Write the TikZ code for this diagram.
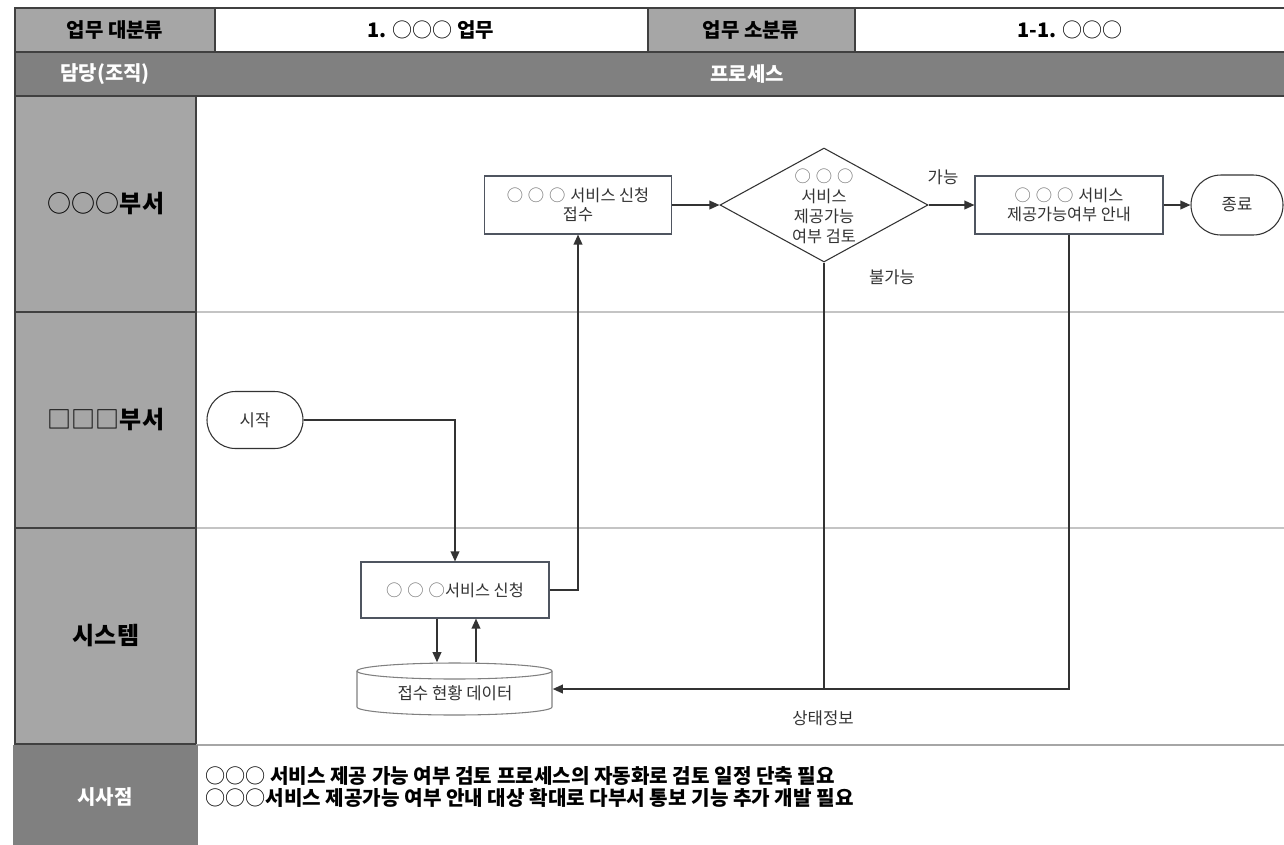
\documentclass[tikz,border=0pt]{standalone}
\usepackage{fontspec}
\setmainfont{Noto Sans CJK KR}
\usetikzlibrary{shapes.geometric,shapes.misc,arrows.meta,calc}
\definecolor{hdrgray}{HTML}{A6A6A6}
\definecolor{midgray}{HTML}{808080}
\definecolor{bordergray}{HTML}{404040}
\definecolor{lanegray}{HTML}{C4C4C4}
\definecolor{linecol}{HTML}{333333}
\definecolor{boxborder}{HTML}{4F5560}
\definecolor{nodetext}{HTML}{333333}
\definecolor{circgray}{HTML}{707070}
\newcommand{\myo}{{\color{circgray}○}}
\newcommand{\osp}{\hspace{0.3em}}
\tikzset{
  cell/.style={draw=bordergray, line width=0.9pt},
  hdr/.style={font=\fontsize{15}{17}\selectfont\bfseries, inner sep=0pt},
  lanelbl/.style={font=\fontsize{18}{21}\selectfont\bfseries, inner sep=0pt},
  procbox/.style={draw=boxborder, line width=0.8pt, fill=white, rectangle, align=center,
    text=nodetext, font=\fontsize{12.25}{14.5}\selectfont, inner sep=0pt},
  term/.style={rounded rectangle, draw=linecol, line width=0.8pt, fill=white,
    text=nodetext, font=\fontsize{12.5}{14}\selectfont, inner sep=0pt},
  flow/.style={draw=linecol, line width=1.1pt},
  arr/.style={flow, -{Triangle[length=7.5pt,width=6.5pt]}},
  lbl/.style={font=\fontsize{12.5}{14}\selectfont, text=nodetext, inner sep=0pt},
}
\begin{document}
\begin{tikzpicture}[x=0.75pt,y=-0.75pt]
\useasboundingbox (0,0) rectangle (1284,844);
% header row 1
\filldraw[cell, fill=hdrgray] (15,8) rectangle (215,52);
\draw[cell] (215,8) rectangle (648,52);
\filldraw[cell, fill=hdrgray] (648,8) rectangle (855,52);
\draw[cell] (855,8) rectangle (1300,52);
\node[hdr] (h1) at (115,30) {업무 대분류};
\node[hdr] (h2) at (431,30) {1. {\mdseries ○○○} 업무};
\node[hdr] (h3) at (751,30) {업무 소분류};
\node[hdr] (h4) at (1070,30) {1-1. {\mdseries ○○○}};
% header row 2
\filldraw[cell, fill=midgray] (15,52) rectangle (1300,96);
\node[hdr, text=white] (r1) at (105,74) {담당(조직)};
\node[hdr, text=white] (r2) at (747,74) {프로세스};
% lanes
\draw[lanegray, line width=0.9pt] (196,312) -- (1300,312) (196,528) -- (1300,528);
\filldraw[cell, fill=hdrgray] (15,96) rectangle (196,744);
\draw[cell] (15,312) -- (196,312) (15,528) -- (196,528);
\node[lanelbl] (l1) at (106,204) {{\mdseries ○○○}부서};
\node[lanelbl] (l2) at (106,420) {{\mdseries □□□}부서};
\node[lanelbl] (l3) at (106,636) {시스템};
% bottom row
\draw[hdrgray, line width=1.6pt] (196,745) -- (1300,745);
\fill[midgray] (13,745) rectangle (198,850);
\node[hdr, text=white] (s1) at (105,797) {시사점};
\node[anchor=west, align=left, inner sep=0pt, font=\fontsize{15.1}{16.6}\selectfont\bfseries] (s2) at (205,787)
  {{\mdseries ○○○} 서비스 제공 가능 여부 검토 프로세스의 자동화로 검토 일정 단축 필요\\
   {\mdseries ○○○}서비스 제공가능 여부 안내 대상 확대로 다부서 통보 기능 추가 개발 필요};
% process nodes
\node[term, minimum width=72pt, minimum height=42.75pt] (start) at (255,420) {시작};
\node[procbox, minimum width=141pt, minimum height=42pt] (apply) at (455,590) {\myo{}\osp\myo{}\osp\myo{}서비스 신청};
\node[minimum width=146.25pt, minimum height=39.75pt, inner sep=0pt] (db) at (455,689) {};
\draw[draw=gray, line width=0.8pt, fill=white] (357,671) -- (357,707)
  arc[start angle=180, end angle=360, x radius=73.125pt, y radius=6pt] -- (552,671);
\draw[draw=gray, line width=0.8pt, fill=white] (454.5,671) ellipse [x radius=73.125pt, y radius=6pt];
\node[font=\fontsize{12.5}{14}\selectfont, text=nodetext] (dbt) at (455,693) {접수 현황 데이터};
\node[procbox, minimum width=140.25pt, minimum height=43.5pt] (recv) at (578,205) {\myo{}\osp\myo{}\osp\myo{}\osp 서비스 신청\\접수};
\node[diamond, draw=linecol, line width=0.8pt, fill=white, minimum width=156pt, minimum height=85.5pt, inner sep=0pt] (dia) at (824,205) {};
\node[align=center, text=nodetext, font=\fontsize{12.25}{15}\selectfont, inner sep=0pt] (diat) at (824,206) {\myo{}\osp\myo{}\osp\myo{}\\서비스\\제공가능\\여부 검토};
\node[procbox, minimum width=141pt, minimum height=43.5pt] (guide) at (1069,205) {\myo{}\osp\myo{}\osp\myo{}\osp 서비스\\제공가능여부 안내};
\node[term, minimum width=69pt, minimum height=45pt] (end) at (1237,205) {종료};
% connectors
\draw[arr] (start.east) -| (apply.north);
\draw[arr] (apply.east) -| (recv.south);
\draw[arr] ([xshift=-13.5pt]apply.south) -- ([xshift=-13.5pt]db.north);
\draw[arr] ([xshift=15.75pt]db.north) -- ([xshift=15.75pt]apply.south);
\draw[arr] (recv.east) -- (dia.west);
\draw[arr] (dia.east) -- (guide.west);
\draw[arr] (guide.east) -- (end.west);
\draw[flow] (dia.south) -- (dia.south |- db.east);
\draw[arr] (guide.south) |- (db.east);
% labels
\node[lbl] (yes) at (943,177) {가능};
\node[lbl] (no) at (892,277) {불가능};
\node[lbl] (st) at (823,718) {상태정보};
\end{tikzpicture}
\end{document}
